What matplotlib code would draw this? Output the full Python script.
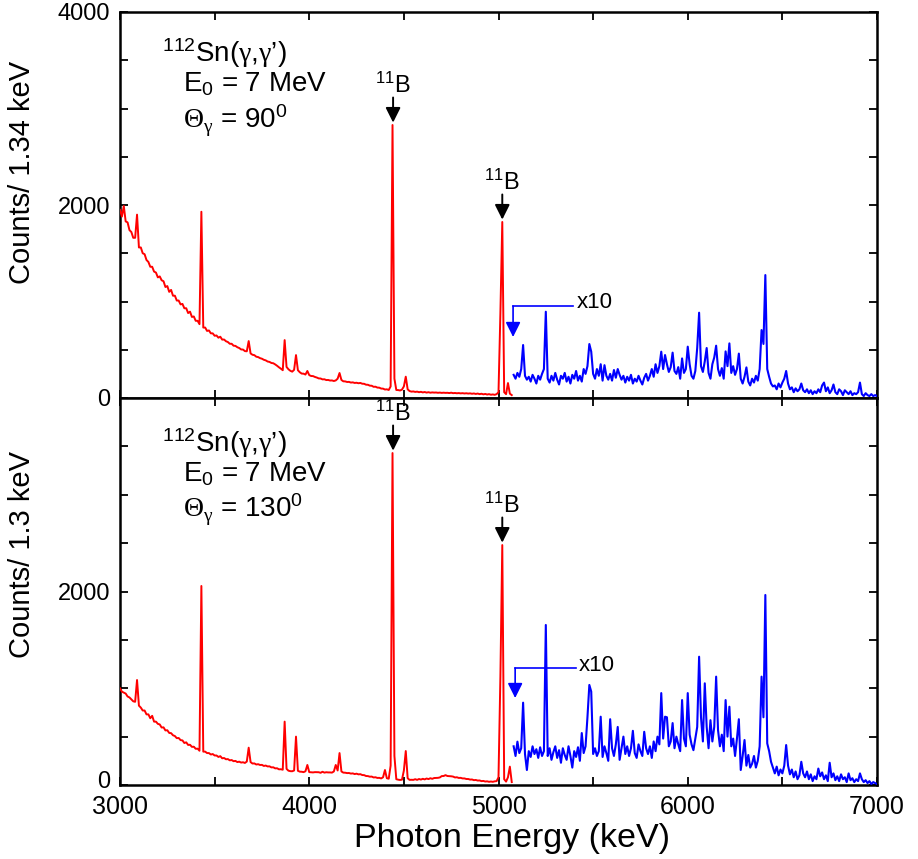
import numpy as np
import matplotlib
matplotlib.use('Agg')
import matplotlib.pyplot as plt
from matplotlib.ticker import MultipleLocator
from matplotlib.transforms import ScaledTranslation

plt.rcParams['font.family'] = ['Liberation Sans', 'DejaVu Sans']
plt.rcParams['mathtext.fontset'] = 'custom'
plt.rcParams['mathtext.rm'] = 'Liberation Sans'
plt.rcParams['mathtext.it'] = 'Liberation Sans:italic'
plt.rcParams['mathtext.sf'] = 'Liberation Serif'

# ---------------- data (counts per bin, 10 keV sampling) ----------------
BIN = 10
RED_START = 3000
BLUE_START = 5080

red_top = [
    1950, 1880, 1990, 1830, 1820, 1740, 1720, 1660, 1660, 1900,   # 3000
    1560, 1560, 1500, 1490, 1430, 1410, 1360, 1360, 1310, 1300,   # 3100
    1250, 1260, 1220, 1210, 1150, 1160, 1100, 1120, 1060, 1060,   # 3200
    1010, 1010, 970, 975, 930, 930, 880, 895, 840, 845,           # 3300
    800, 800, 765, 1930, 730, 730, 695, 700, 670, 670,            # 3400
    645, 648, 625, 635, 605, 606, 588, 580, 562, 562,             # 3500
    542, 540, 526, 518, 503, 502, 486, 484, 590, 462,             # 3600
    448, 444, 428, 424, 413, 407, 396, 390, 378, 374,             # 3700
    363, 360, 348, 334, 318, 304, 288, 600, 322, 298,             # 3800
    282, 273, 292, 445, 288, 267, 253, 252, 243, 280,             # 3900
    237, 228, 227, 218, 212, 203, 202, 193, 194, 186,             # 4000
    187, 181, 182, 176, 182, 200, 259, 187, 173, 172,             # 4100
    166, 167, 160, 162, 156, 158, 153, 156, 148, 147,             # 4200
    138, 137, 128, 127, 116, 117, 108, 107, 98, 97,               # 4300
    88, 90, 83, 120, 2829, 200, 83, 82, 78, 87,                   # 4400
    120, 221, 90, 72, 66, 68, 63, 66, 60, 64,                     # 4500
    58, 62, 56, 60, 55, 58, 56, 57, 54, 56,                       # 4600
    53, 55, 53, 54, 51, 55, 50, 52, 49, 51,                       # 4700
    48, 50, 47, 49, 46, 48, 44, 47, 42, 46,                       # 4800
    40, 44, 38, 42, 36, 40, 34, 37, 33, 40,                       # 4900
    60, 880, 1824, 60, 40, 155, 45, 30,                           # 5000
]

blue_top = [
    240, 200,                                                     # 5080
    260, 220, 300, 549, 230, 190, 220, 170, 240, 200,             # 5100
    150, 230, 190, 250, 300, 894, 200, 160, 230, 180,             # 5200
    260, 190, 140, 230, 200, 260, 170, 220, 150, 240,             # 5300
    200, 280, 180, 230, 170, 300, 250, 330, 559, 480,             # 5400
    250, 200, 300, 230, 350, 180, 340, 230, 190, 250,             # 5500
    180, 290, 210, 300, 240, 190, 230, 160, 220, 180,             # 5600
    240, 150, 200, 170, 230, 180, 140, 210, 250, 180,             # 5700
    230, 300, 220, 350, 260, 330, 480, 300, 445, 350,             # 5800
    270, 320, 470, 280, 250, 320, 200, 410, 260, 300,             # 5900
    532, 350, 230, 200, 280, 520, 884, 330, 270, 380,             # 6000
    518, 260, 200, 350, 420, 542, 300, 230, 310, 200,             # 6100
    483, 330, 566, 260, 330, 240, 300, 460, 200, 150,             # 6200
    220, 317, 170, 130, 200, 160, 230, 180, 300, 704,             # 6300
    560, 1274, 300, 220, 150, 120, 130, 90, 150, 110,             # 6400
    160, 200, 280, 150, 90, 110, 60, 100, 70, 90,                 # 6500
    150, 80, 60, 90, 50, 80, 40, 70, 50, 90,                      # 6600
    60, 130, 160, 70, 110, 50, 80, 140, 60, 40,                   # 6700
    90, 70, 30, 80, 60, 40, 70, 30, 50, 40,                       # 6800
    60, 160, 40, 20, 50, 30, 20, 40, 20, 30,                      # 6900
    20,                                                           # 7000
]

red_bot = [
    1000, 965, 955, 945, 915, 905, 885, 865, 860, 1085,           # 3000
    820, 800, 770, 770, 730, 730, 690, 715, 655, 655,             # 3100
    632, 626, 594, 596, 564, 566, 538, 536, 514, 506,             # 3200
    484, 486, 464, 461, 434, 441, 414, 416, 394, 396,             # 3300
    374, 376, 354, 2057, 345, 345, 330, 330, 315, 320,            # 3400
    305, 305, 290, 298, 276, 279, 266, 268, 255, 258,             # 3500
    246, 249, 237, 241, 232, 235, 228, 242, 386, 237,             # 3600
    222, 223, 212, 215, 207, 208, 197, 201, 192, 193,             # 3700
    182, 183, 172, 173, 162, 163, 158, 655, 167, 148,             # 3800
    143, 142, 150, 500, 147, 138, 137, 133, 142, 207,             # 3900
    133, 132, 130, 133, 133, 132, 126, 137, 128, 132,             # 4000
    130, 130, 128, 140, 207, 150, 330, 140, 128, 127,             # 4100
    123, 124, 118, 120, 113, 117, 110, 112, 103, 102,             # 4200
    93, 92, 86, 87, 78, 80, 73, 74, 68, 80,                       # 4300
    155, 70, 65, 200, 3431, 300, 60, 55, 52, 55,                  # 4400
    150, 351, 70, 53, 54, 53, 60, 53, 62, 56,                     # 4500
    64, 58, 67, 61, 70, 64, 72, 73, 74, 78,                       # 4600
    92, 93, 102, 93, 92, 90, 87, 78, 80, 73,                      # 4700
    74, 68, 68, 62, 62, 56, 57, 50, 52, 46,                       # 4800
    47, 40, 42, 36, 38, 33, 36, 33, 38, 40,                       # 4900
    80, 1120, 2480, 60, 35, 80, 190, 30,                          # 5000
]

blue_bot = [
    400, 300,                                                     # 5080
    448, 330, 380, 851, 320, 155, 350, 290, 400, 320,             # 5100
    370, 280, 390, 300, 350, 1654, 300, 380, 260, 340,            # 5200
    400, 280, 360, 230, 380, 310, 260, 400, 300, 180,             # 5300
    350, 290, 390, 250, 537, 330, 400, 700, 1034, 965,            # 5400
    320, 380, 300, 350, 706, 290, 400, 330, 250, 680,             # 5500
    380, 300, 420, 600, 260, 380, 500, 320, 400, 300,             # 5600
    380, 560, 330, 280, 420, 350, 300, 550, 380, 320,             # 5700
    400, 280, 450, 350, 500, 420, 950, 480, 706, 700,             # 5800
    400, 450, 640, 380, 500, 420, 350, 878, 480, 400,             # 5900
    950, 520, 420, 360, 480, 600, 1326, 700, 450, 1051,           # 6000
    600, 380, 670, 450, 600, 1120, 567, 400, 520, 350,            # 6100
    878, 500, 809, 400, 480, 300, 480, 680, 155, 300,             # 6200
    465, 200, 310, 180, 220, 300, 180, 250, 400, 1120,            # 6300
    700, 1964, 430, 350, 240, 180, 120, 190, 100, 160,            # 6400
    120, 200, 413, 200, 110, 160, 80, 140, 60, 100,               # 6500
    240, 120, 80, 140, 60, 110, 40, 90, 60, 170,                  # 6600
    90, 130, 60, 100, 40, 230, 80, 120, 50, 90,                   # 6700
    40, 110, 60, 80, 30, 120, 50, 70, 30, 60,                     # 6800
    40, 120, 60, 30, 50, 20, 40, 10, 30, 20,                      # 6900
    10,                                                           # 7000
]

b11_lines = [4443, 5020]
panel_texts = [
    [r'$^{112}$Sn($\mathsf{\gamma}$,$\mathsf{\gamma}$’)', r'E$_0$ = 7 MeV',
     r'$\mathsf{\Theta}_{\mathsf{\gamma}}$ = 90$^0$'],
    [r'$^{112}$Sn($\mathsf{\gamma}$,$\mathsf{\gamma}$’)', r'E$_0$ = 7 MeV',
     r'$\mathsf{\Theta}_{\mathsf{\gamma}}$ = 130$^0$'],
]
ylabels = ['Counts/ 1.34 keV', 'Counts/ 1.3 keV']
xlabel = 'Photon Energy (keV)'

# ---------------- figure ----------------
fig = plt.figure(figsize=(9.18, 8.59), dpi=100)
ax_top = fig.add_axes([120/918, 1-398/859, 757/918, 386/859])
ax_bot = fig.add_axes([120/918, 1-785/859, 757/918, 387/859])

series = [(red_top, blue_top), (red_bot, blue_bot)]
text_y = [(0.870, 0.793, 0.699), (0.860, 0.783, 0.690)]
x10_cfg = [dict(line_y=953, x_from=5394, x_to=5077, tip=632, tx=5415, ty=985),
           dict(line_y=1209, x_from=5409, x_to=5088, tip=899, tx=5425, ty=1240)]

for k, ax in enumerate([ax_top, ax_bot]):
    red, blue = series[k]
    e_red = RED_START + BIN*np.arange(len(red))
    e_blue = BLUE_START + BIN*np.arange(len(blue))
    ax.plot(e_red, red, color='#ff0000', lw=1.4, zorder=3)
    ax.plot(e_blue, blue, color='#0000ff', lw=1.5, zorder=3)
    ax.set_xlim(3000, 7000)
    ax.set_ylim(0, 4000)
    ax.xaxis.set_major_locator(MultipleLocator(1000))
    ax.xaxis.set_minor_locator(MultipleLocator(500))
    ax.yaxis.set_major_locator(MultipleLocator(2000))
    ax.yaxis.set_minor_locator(MultipleLocator(500))
    ax.tick_params(which='both', direction='in', top=True, right=True,
                   length=6, width=1.3)
    ax.tick_params(axis='y', labelsize=17, pad=7)
    ax.tick_params(axis='x', labelsize=18, pad=7)
    for s in ax.spines.values():
        s.set_linewidth(1.8)

    # text block
    ty = text_y[k]
    ax.text(0.0555, ty[0], panel_texts[k][0], transform=ax.transAxes,
            fontsize=20, va='baseline', ha='left')
    ax.text(0.083, ty[1], panel_texts[k][1], transform=ax.transAxes,
            fontsize=20, va='baseline', ha='left')
    ax.text(0.083, ty[2], panel_texts[k][2], transform=ax.transAxes,
            fontsize=20, va='baseline', ha='left')

    # 11B markers
    e_all = np.concatenate([e_red, e_blue])
    y_all = np.concatenate([red, blue])
    for eb in b11_lines:
        sel = np.abs(e_all - eb) <= 10
        h = y_all[sel].max()
        ax.annotate('', xy=(eb, h + 25), xytext=(eb, h + 285),
                    arrowprops=dict(arrowstyle='-|>,head_length=0.9,head_width=0.45',
                                    color='black', lw=1.4, shrinkA=0, shrinkB=0,
                                    mutation_scale=10), zorder=4)
        ax.text(eb, h + 335, r'$^{11}$B', fontsize=17, ha='center', va='baseline')

    # x10 marker
    c = x10_cfg[k]
    ax.plot([c['x_from'], c['x_to']], [c['line_y'], c['line_y']], color='#0000ff', lw=1.2)
    ax.annotate('', xy=(c['x_to'], c['tip']), xytext=(c['x_to'], c['line_y']),
                arrowprops=dict(arrowstyle='-|>,head_length=0.9,head_width=0.45',
                                color='#0000ff', lw=1.2, shrinkA=0, shrinkB=0,
                                mutation_scale=10))
    ax.text(c['tx'], c['ty'], 'x10', fontsize=16, ha='left', va='center')

ax_top.tick_params(labelbottom=False)
ax_bot.set_yticks([0, 2000])
ax_bot.set_yticks(np.arange(0, 4001, 500), minor=True)

# lift the bottom "0" label slightly so it clears the "3000" label
zero_lbl = ax_bot.yaxis.get_major_ticks()[0].label1
zero_lbl.set_transform(zero_lbl.get_transform() + ScaledTranslation(0, 4/72, fig.dpi_scale_trans))

ax_bot.set_xlabel(xlabel, fontsize=24.5)
ax_bot.xaxis.set_label_coords(0.518, -0.098)
fig.text(22/918, 1-172/859, ylabels[0], rotation=90, fontsize=21, ha='center', va='center')
fig.text(22/918, 1-555/859, ylabels[1], rotation=90, fontsize=21, ha='center', va='center')

fig.savefig('out.png', dpi=100)
